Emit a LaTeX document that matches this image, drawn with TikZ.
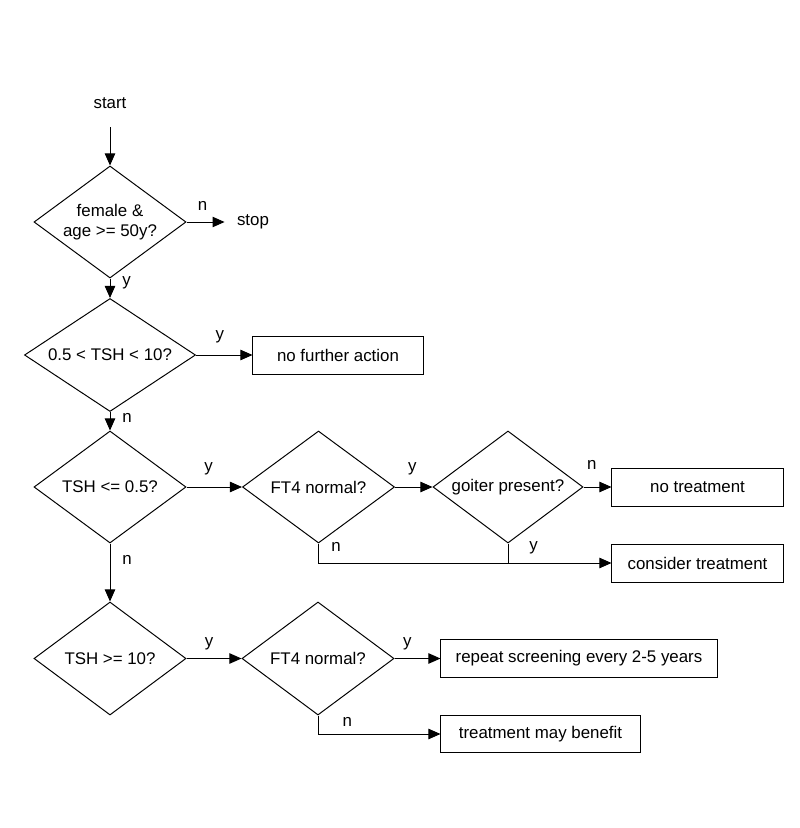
\documentclass[tikz,border=0pt]{standalone}
\usepackage{fontspec}
\setmainfont{Liberation Sans}
\usetikzlibrary{shapes.geometric,arrows.meta}

\begin{document}
\begin{tikzpicture}[x=0.025cm, y=-0.025cm, font=\fontsize{12}{14.2}\selectfont, line width=0.7pt,
        arr/.style={-{Triangle[length=0.3cm,width=0.26cm]}},
        test/.style={draw, diamond, aspect=1.35, inner sep=0pt, align=center, minimum width=3.8cm, minimum height=2.8cm},
        outcome/.style={draw, rectangle, minimum height=0.95cm},
        term/.style={inner xsep=0.3cm},
        lab/.style={inner sep=0pt}]
        \useasboundingbox (0,0) rectangle (800,828);

        \node (start) at (110,103) {start};
        \node[test] (d1) at (110,222) {female \&\\age >= 50y?};
        \node[term] (stop) at (253,222) {stop};
        \node[test, minimum width=4.275cm, minimum height=2.825cm] (d2) at (110,355) {0.5 < TSH < 10?};
        \node[outcome, minimum width=4.25cm] (b1) at (338,355) {no further action};

        \node[test] (d3) at (110,487) {TSH <= 0.5?};
        \node[test] (f1) at (318.5,487) {FT4 normal?};
        \node[test, minimum width=3.75cm] (g) at (508,487) {goiter present?};
        \node[outcome, minimum width=4.275cm] (b2) at (697.5,487) {no treatment};
        \node[outcome, minimum width=4.275cm] (b3) at (697.5,563) {consider treatment};

        \node[test, minimum height=2.825cm] (d4) at (110,658.5) {TSH >= 10?};
        \node[test, minimum height=2.825cm] (f2) at (318,658.5) {FT4 normal?};
        \node[outcome, minimum width=6.9cm] (b4) at (579,658.5) {repeat screening every 2-5 years};
        \node[outcome, minimum width=4.975cm, minimum height=0.925cm] (b5) at (540.5,734) {treatment may benefit};

        % main line
        \draw[arr, shorten <=0.34cm] (start) -- (d1);
        \draw[arr] (d1) -- node[lab, pos=0.42, above=0.27cm] {n} (stop);
        \draw[arr] (d1) -- node[lab, pos=0.2, right=0.3cm] {y} (d2);
        \draw[arr] (d2) -- node[lab, pos=0.42, above=0.3cm] {y} (b1);
        \draw[arr] (d2) -- node[lab, pos=0.3, right=0.3cm] {n} (d3);
        \draw[arr] (d3) -- node[lab, pos=0.29, right=0.3cm] {n} (d4);

        % low TSH
        \draw[arr] (d3) -- node[lab, pos=0.4, above=0.3cm] {y} (f1);
        \draw[arr] (f1) -- node[lab, pos=0.46, above=0.3cm] {y} (g);
        \draw[arr] (g) -- node[lab, pos=0.3, above=0.43cm] {n} (b2);
        \draw[arr] (f1) |- node[lab, pos=0.53, above=0.27cm] {n} (b3);
        \draw (g) -- node[lab, pos=0.2, right=0.52cm] {y} (g |- b3);

        % high TSH
        \draw[arr] (d4) -- node[lab, pos=0.41, above=0.2cm] {y} (f2);
        \draw[arr] (f2) -- node[lab, pos=0.28, above=0.2cm] {y} (b4);
        \draw[arr] (f2) |- node[lab, pos=0.62, above=0.17cm] {n} (b5);
\end{tikzpicture}
\end{document}
